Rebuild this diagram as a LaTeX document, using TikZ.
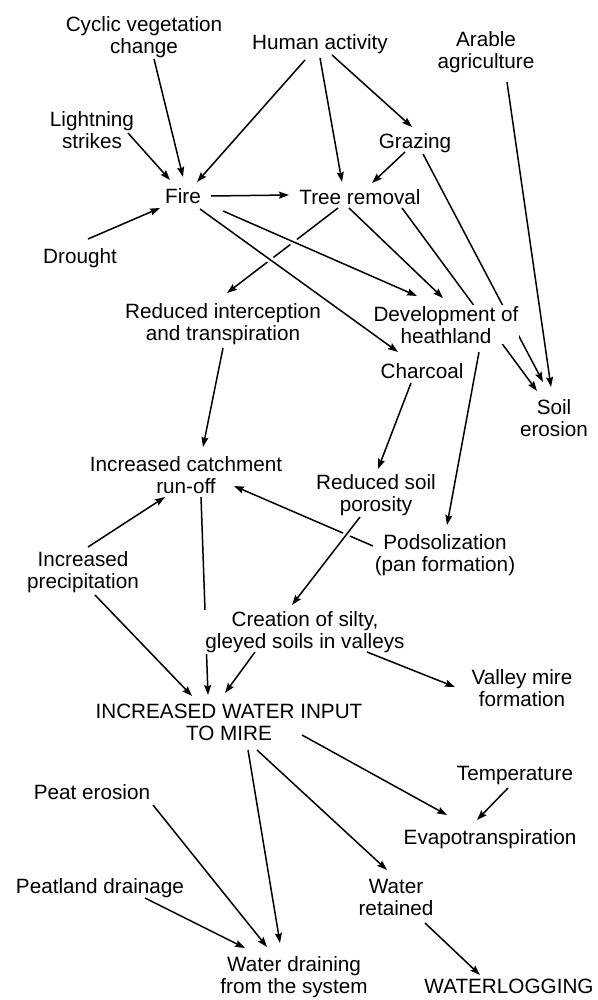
\documentclass[tikz,border=0pt]{standalone}
\usepackage{fontspec}
\setmainfont{Liberation Sans}
\usetikzlibrary{arrows.meta,calc,backgrounds}
\begin{document}
\begin{tikzpicture}[x=1pt,y=-1pt,
  lbl/.style={anchor=north,align=center,inner sep=1pt,fill=white,font=\fontsize{20.7}{22}\selectfont},
  arr/.style={line width=1.5pt,-{Stealth[length=10pt,width=7pt,inset=1.5pt]}},
  over/.style={preaction={draw=white,line width=7pt,-,shorten <=14pt,shorten >=14pt}}]
\useasboundingbox (0,0) rectangle (597,1000);

% nodes
\node[lbl] (cyc)   at (144,15)  {Cyclic vegetation\\change};
\node[lbl] (hum)   at (320,33)  {Human activity};
\node[lbl] (ara)   at (486,30)  {Arable\\agriculture};
\node[lbl] (lig)   at (92,110)  {Lightning\\strikes};
\node[lbl] (fire)  at (183,187) {Fire};
\node[lbl] (dro)   at (80,247)  {Drought};
\node[lbl] (gra)   at (415,132) {Grazing};
\node[lbl] (tree)  at (360,188) {Tree removal};
\node[lbl] (red)   at (223,302) {Reduced interception\\and transpiration};
\node[lbl] (dev)   at (446,305) {Development of\\heathland};
\node[lbl] (cha)   at (422,362) {Charcoal};
\node[lbl] (soil)  at (554,398) {Soil\\erosion};
\node[lbl] (catch) at (186,455) {Increased catchment\\run-off};
\node[lbl] (poro)  at (376,473) {Reduced soil\\porosity};
\node[lbl] (pod)   at (445,533) {Podsolization\\(pan formation)};
\node[lbl] (prec)  at (83,550)  {Increased\\precipitation};
\node[lbl] (crea)  at (305,610) {Creation of silty,\\gleyed soils in valleys};
\node[lbl] (val)   at (522,668) {Valley mire\\formation};
\node[lbl] (water) at (229,703) {INCREASED WATER INPUT\\TO MIRE};
\node[lbl] (temp)  at (515,765) {Temperature};
\node[lbl] (evap)  at (490,828) {Evapotranspiration};
\node[lbl] (peat)  at (92,783)  {Peat erosion};
\node[lbl] (drain) at (100,877) {Peatland drainage};
\node[lbl] (ret)   at (396,878) {Water\\retained};
\node[lbl] (wd)    at (294,955) {Water draining\\from the system};
\node[lbl] (wl)    at (509,978) {WATERLOGGING};

% edges hidden behind text
\begin{pgfonlayer}{background}
\draw[arr] ($(gra.north)+(8,22)$) -- ($(soil.north)+(-11,-16)$);
\draw[arr] ($(tree.north)+(42,20)$) -- ($(soil.north)+(-17,-7)$);
\draw[arr] ($(catch.north)+(15,42)$) -- ($(water.north)+(-21,-8)$);
\end{pgfonlayer}

% edges
\draw[arr] ($(cyc.north)+(10,44)$) -- ($(fire.north)+(0,-10)$);
\draw[arr] ($(lig.north)+(36,23)$) -- ($(fire.north)+(-13,-7)$);
\draw[arr] ($(hum.north)+(-15,27)$) -- ($(fire.north)+(14,-5)$);
\draw[arr] ($(dro.north)+(8,-8)$) -- ($(fire.north)+(-23,21)$);
\draw[arr] ($(fire.north)+(28,9)$) -- ($(tree.north)+(-71,7)$);
\draw[arr] ($(hum.north)+(0,25)$) -- ($(tree.north)+(-18,-6)$);
\draw[arr] ($(hum.north)+(12,22)$) -- ($(gra.north)+(-3,-5)$);
\draw[arr] ($(gra.north)+(-10,20)$) -- ($(tree.north)+(12,-5)$);
\draw[arr] ($(ara.north)+(21,52)$) -- ($(soil.north)+(-3,-11)$);
\draw[arr] ($(tree.north)+(-11,20)$) -- ($(dev.north)+(-3,-7)$);
\draw[arr] ($(tree.north)+(-22,20)$) -- ($(red.north)+(4,-9)$);
\draw[arr,over] ($(fire.north)+(40,24)$) -- ($(dev.north)+(-29,-9)$);
\draw[arr,over] ($(fire.north)+(17,22)$) -- ($(cha.north)+(-24,-10)$);
\draw[arr] ($(red.north)+(0,46)$) -- ($(catch.north)+(17,-8)$);
\draw[arr] ($(dev.north)+(33,47)$) -- ($(pod.north)+(2,-8)$);
\draw[arr] ($(cha.north)+(-11,21)$) -- ($(poro.north)+(2,-4)$);
\draw[arr] ($(pod.north)+(-72,13)$) -- ($(catch.north)+(48,31)$);
\draw[arr,over] ($(poro.north)+(-16,44)$) -- ($(crea.north)+(-13,-5)$);
\draw[arr] ($(prec.north)+(5,-3)$) -- ($(catch.north)+(-21,42)$);
\draw[arr] ($(prec.north)+(12,45)$) -- ($(water.north)+(-37,-7)$);
\draw[arr] ($(crea.north)+(-50,42)$) -- ($(water.north)+(-4,-10)$);
\draw[arr] ($(crea.north)+(62,42)$) -- ($(val.north)+(-67,19)$);
\draw[arr] ($(water.north)+(73,32)$) -- ($(evap.north)+(-43,-13)$);
\draw[arr] ($(temp.north)+(-7,23)$) -- ($(evap.north)+(-13,-8)$);
\draw[arr] ($(water.north)+(19,47)$) -- ($(wd.north)+(-14,-12)$);
\draw[arr] ($(water.north)+(28,47)$) -- ($(ret.north)+(-9,-8)$);
\draw[arr] ($(ret.north)+(29,45)$) -- ($(wl.north)+(-29,-3)$);
\draw[arr] ($(peat.north)+(61,22)$) -- ($(wd.north)+(-27,-8)$);
\draw[arr] ($(drain.north)+(45,21)$) -- ($(wd.north)+(-49,-7)$);
\end{tikzpicture}
\end{document}
